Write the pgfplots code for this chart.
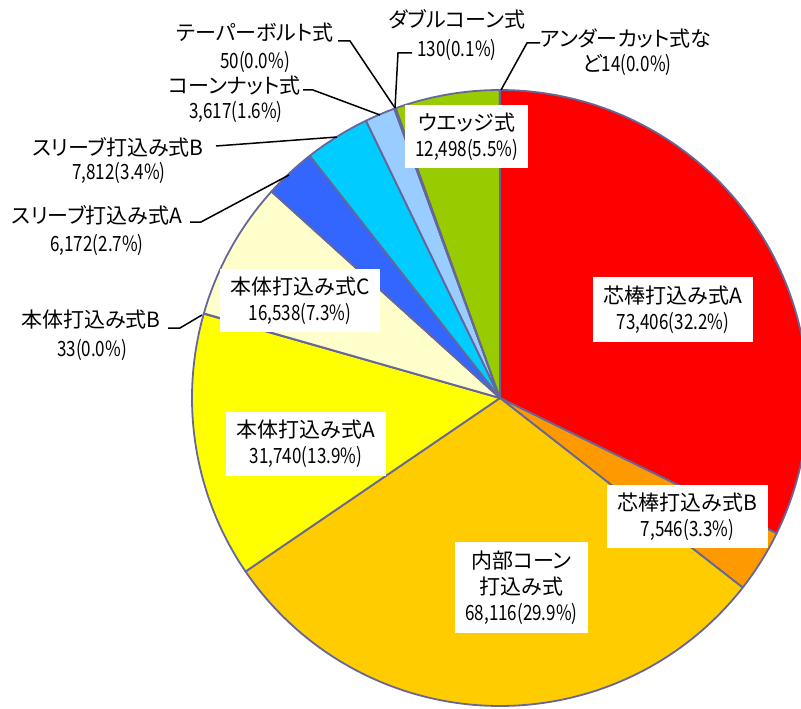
\documentclass[border=0pt]{standalone}
\usepackage{pgfplots}
\pgfplotsset{compat=1.18}
\usepackage{fontspec}
\newfontfamily\jp[RawFeature=+palt]{Noto Sans CJK JP}
\newfontfamily\num[FakeStretch=0.81]{Noto Sans CJK JP}
\definecolor{edge}{RGB}{102,102,153}
\definecolor{cA}{RGB}{255,0,0}
\definecolor{cB}{RGB}{255,153,0}
\definecolor{cC}{RGB}{255,204,0}
\definecolor{cD}{RGB}{255,255,0}
\definecolor{cE}{RGB}{255,255,153}
\definecolor{cF}{RGB}{255,255,204}
\definecolor{cG}{RGB}{51,102,255}
\definecolor{cH}{RGB}{0,204,255}
\definecolor{cI}{RGB}{153,204,255}
\definecolor{cJ}{RGB}{204,153,255}
\definecolor{cK}{RGB}{153,153,255}
\definecolor{cL}{RGB}{153,204,0}
\definecolor{cM}{RGB}{204,255,204}
% data: value of each slice (clockwise from 12 o'clock)
\def\total{227672}
\gdef\cum{0}
\newcommand\slice[2]{%
  \xdef\startang{\fpeval{90-360*\cum/\total}}%
  \xdef\cum{\fpeval{\cum+#1}}%
  \xdef\endang{\fpeval{90-360*\cum/\total}}%
  \edef\doplot{\noexpand\addplot[fill=#2,draw=edge,line width=1.8pt,line join=round,
     domain=\endang:\startang,samples=90,variable=\noexpand\t]
     ({500+308*cos(\noexpand\t)},{398-308*sin(\noexpand\t)}) -- (axis cs:500,398) -- cycle;}%
  \doplot}
\tikzset{box/.style={fill=white,align=center,inner sep=0pt,font=\jp\fontsize{21}{26}\selectfont},
  lab/.style={align=center,inner sep=0pt,font=\jp\fontsize{21}{26}\selectfont}}
\begin{document}
\begin{tikzpicture}
\begin{axis}[scale only axis,width=801pt,height=709pt,xmin=0,xmax=801,ymin=0,ymax=709,
  y dir=reverse,hide axis,clip=true]
\slice{73406}{cA}
\slice{7546}{cB}
\slice{68116}{cC}
\slice{31740}{cD}
\slice{33}{cE}
\slice{16538}{cF}
\slice{6172}{cG}
\slice{7812}{cH}
\slice{3617}{cI}
\slice{50}{cJ}
\slice{130}{cK}
\slice{12498}{cL}
\slice{14}{cM}
% leader lines
\addplot[black,line width=1.5pt] coordinates {(338,41) (350,41) (395,108)};
\addplot[black,line width=1.5pt] coordinates {(412,53) (398,53) (395,108)};
\addplot[black,line width=1.5pt] coordinates {(303,90) (313,90) (380,115)};
\addplot[black,line width=1.5pt] coordinates {(540,43) (527,43) (501,90)};
\addplot[black,line width=1.5pt] coordinates {(216,146) (337,137)};
\addplot[black,line width=1.5pt] coordinates {(190,222) (201,222) (289,175)};
\addplot[black,line width=1.5pt] coordinates {(168,328) (180,328) (202,315)};
% boxed labels
\node[box,minimum width=160pt,minimum height=65pt] at (axis cs:673,309.5) {芯棒打込み式A\\{\num 73,406(32.2\%)}};
\node[box,minimum width=161pt,minimum height=63pt] at (axis cs:687.5,516.5) {芯棒打込み式B\\{\num 7,546(3.3\%)}};
\node[box,minimum width=133pt,minimum height=91pt] at (axis cs:521.5,587.5) {内部コーン\\打込み式\\{\num 68,116(29.9\%)}};
\node[box,minimum width=160pt,minimum height=64pt] at (axis cs:306,444) {本体打込み式A\\{\num 31,740(13.9\%)}};
\node[box,minimum width=160pt,minimum height=63pt] at (axis cs:300,300.5) {本体打込み式C\\{\num 16,538(7.3\%)}};
\node[box,minimum width=123pt,minimum height=63pt] at (axis cs:466.5,136.5) {ウエッジ式\\{\num 12,498(5.5\%)}};
% outside labels
\node[lab] at (axis cs:255,33) {テーパーボルト式};
\node[lab] at (axis cs:255,62) {\num 50(0.0\%)};
\node[lab] at (axis cs:457,19) {ダブルコーン式};
\node[lab] at (axis cs:457,50) {\num 130(0.1\%)};
\node[lab] at (axis cs:235,86) {コーンナット式};
\node[lab] at (axis cs:236,112) {\num 3,617(1.6\%)};
\node[lab] at (axis cs:626,38) {アンダーカット式な};
\node[lab] at (axis cs:627,65) {ど{\num 14(0.0\%)}};
\node[lab] at (axis cs:118,147) {スリーブ打込み式B};
\node[lab] at (axis cs:119,173) {\num 7,812(3.4\%)};
\node[lab] at (axis cs:97,215) {スリーブ打込み式A};
\node[lab] at (axis cs:97,245) {\num 6,172(2.7\%)};
\node[lab] at (axis cs:91,320) {本体打込み式B};
\node[lab] at (axis cs:92,350) {\num 33(0.0\%)};
\end{axis}
\pgfresetboundingbox
\useasboundingbox (current axis.south west) rectangle (current axis.north east);
\end{tikzpicture}
\end{document}
